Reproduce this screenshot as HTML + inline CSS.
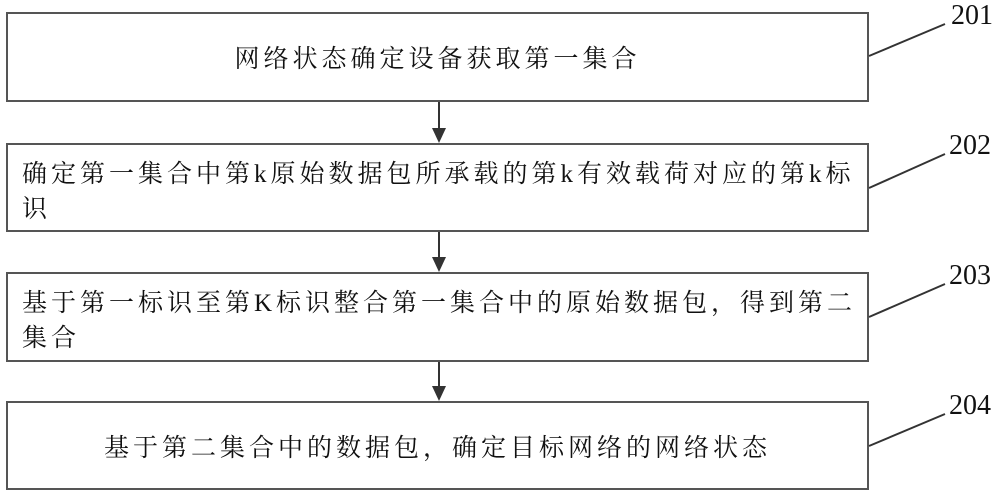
<!DOCTYPE html>
<html><head><meta charset="utf-8"><style>
body{margin:0;width:1000px;height:496px;background:#fff;position:relative;overflow:hidden;font-family:"Liberation Serif","Noto Serif CJK SC",serif;}
.b{position:absolute;left:6px;width:863px;border:2px solid #555;box-sizing:border-box;font-size:25px;color:#111;letter-spacing:4px;}
.c{display:flex;align-items:center;justify-content:center;}
.t{padding:12px 0 0 14px;line-height:35px;}
.l{position:absolute;font-size:28px;color:#111;}
</style></head><body>
<div class="b c" style="top:12px;height:90px">网络状态确定设备获取第一集合</div>
<div class="b t" style="top:143px;height:89px">确定第一集合中第k原始数据包所承载的第k有效载荷对应的第k标<br>识</div>
<div class="b t" style="top:272px;height:90px">基于第一标识至第K标识整合第一集合中的原始数据包，得到第二<br>集合</div>
<div class="b c" style="top:401px;height:89px">基于第二集合中的数据包，确定目标网络的网络状态</div>
<div class="l" style="left:951px;top:0px">201</div>
<div class="l" style="left:949px;top:130px">202</div>
<div class="l" style="left:949px;top:260px">203</div>
<div class="l" style="left:949px;top:390px">204</div>
<svg width="1000" height="496" style="position:absolute;left:0;top:0">
<g stroke="#333" stroke-width="2">
<line x1="869" y1="56" x2="945" y2="24"/>
<line x1="869" y1="188" x2="945" y2="154"/>
<line x1="869" y1="317" x2="945" y2="284"/>
<line x1="869" y1="446" x2="945" y2="414"/>
<line x1="439" y1="102" x2="439" y2="130"/>
<line x1="439" y1="232" x2="439" y2="258"/>
<line x1="439" y1="362" x2="439" y2="387"/>
</g>
<g fill="#333">
<polygon points="432,128 446,128 439,143"/>
<polygon points="432,257 446,257 439,272"/>
<polygon points="432,386 446,386 439,401"/>
</g>
</svg>
</body></html>
